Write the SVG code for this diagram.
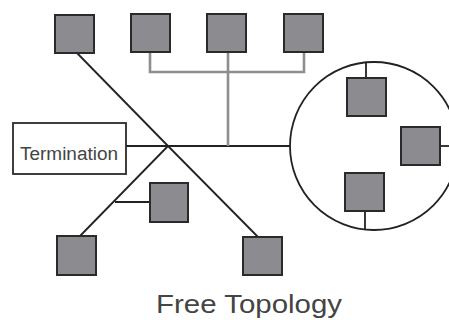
<svg xmlns="http://www.w3.org/2000/svg" width="449" height="320" viewBox="0 0 449 320">
<style>
.node rect.dev{fill:#8c8c90;stroke:#2a2a2a;stroke-width:2}
.bk{stroke:#222;stroke-width:1.8;fill:none}
.gr{stroke:#8e8e8e;stroke-width:2.6;fill:none}
text{font-family:"Liberation Sans",Arial,sans-serif}
</style>
<rect width="449" height="320" fill="#fff"/>
<g id="connectors">
<line class="bk" x1="77" y1="53" x2="168" y2="146"/>
<line class="bk" x1="168" y1="146" x2="80" y2="236"/>
<line class="bk" x1="168" y1="146" x2="258" y2="237"/>
<line class="bk" x1="115" y1="202" x2="150" y2="202"/>
<line class="bk" x1="126" y1="146" x2="290" y2="146"/>
<polyline class="gr" points="150,52 150,72 304,72 304,52"/>
<line class="gr" x1="228" y1="52" x2="228" y2="146"/>
<circle class="bk" cx="374" cy="146" r="84"/>
<line class="bk" x1="366" y1="62" x2="366" y2="77"/>
<line class="bk" x1="440" y1="146" x2="449" y2="146"/>
<line class="bk" x1="365" y1="211" x2="365" y2="230"/>
</g>
<g id="termination" class="node">
<rect x="13" y="123" width="113" height="51" fill="#fff" stroke="#2a2a2a" stroke-width="1.8"/>
<text x="69" y="160" font-size="18" fill="#444" text-anchor="middle" textLength="98" lengthAdjust="spacingAndGlyphs">Termination</text>
</g>
<g id="n1" class="node"><rect class="dev" x="55" y="15" width="39" height="38"/></g>
<g id="n2" class="node"><rect class="dev" x="131" y="14" width="39" height="38"/></g>
<g id="n3" class="node"><rect class="dev" x="207" y="14" width="39" height="38"/></g>
<g id="n4" class="node"><rect class="dev" x="284" y="14" width="39" height="38"/></g>
<g id="n5" class="node"><rect class="dev" x="347" y="78" width="39" height="38"/></g>
<g id="n6" class="node"><rect class="dev" x="401" y="127" width="39" height="38"/></g>
<g id="n7" class="node"><rect class="dev" x="345" y="173" width="39" height="38"/></g>
<g id="n8" class="node"><rect class="dev" x="150" y="183" width="38" height="39"/></g>
<g id="n9" class="node"><rect class="dev" x="57" y="236" width="39" height="39"/></g>
<g id="n10" class="node"><rect class="dev" x="243" y="237" width="39" height="38"/></g>
<text x="156" y="313" font-size="26" fill="#444" textLength="186" lengthAdjust="spacingAndGlyphs">Free Topology</text>
</svg>
